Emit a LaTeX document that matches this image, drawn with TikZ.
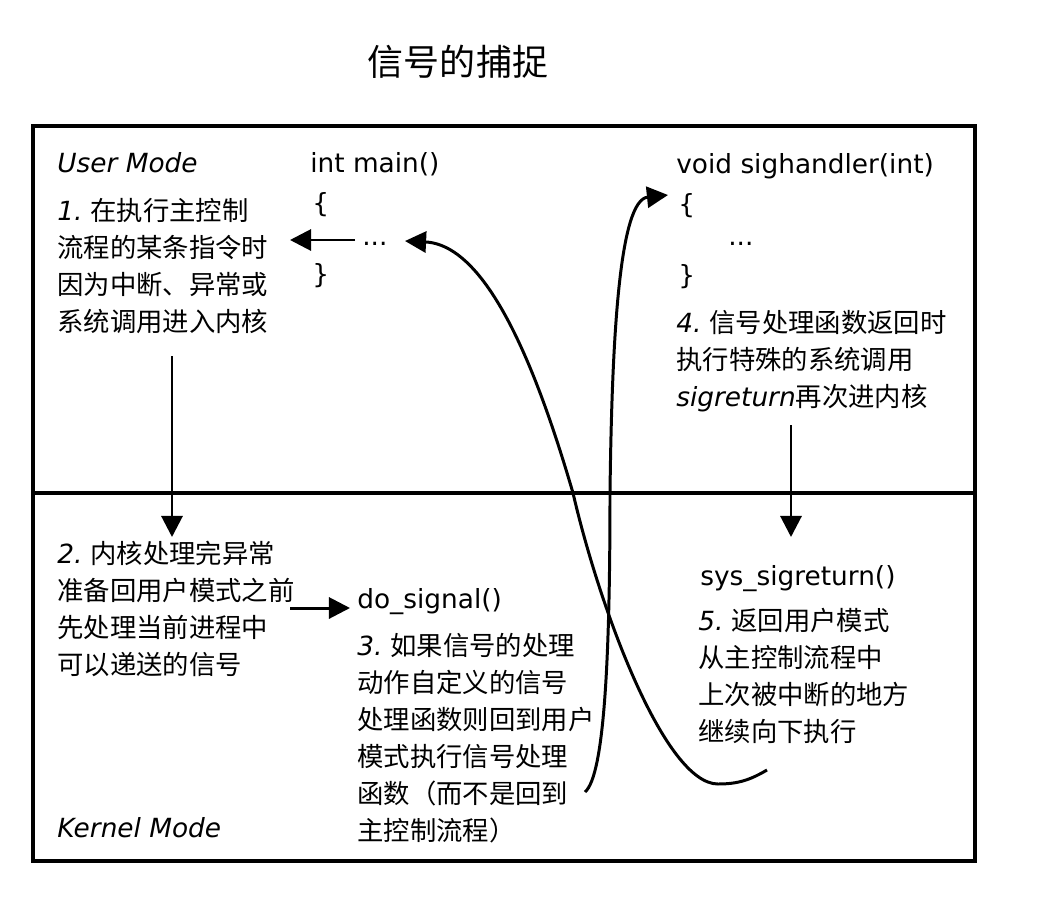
\documentclass[tikz,border=0pt]{standalone}
\usepackage{fontspec}
\setmainfont{DejaVu Sans}
\newfontfamily\cjk{Noto Sans CJK SC}
\usetikzlibrary{arrows.meta, positioning}
\newcommand{\num}[1]{{\normalfont\itshape #1}}
\tikzset{
  arr/.style={line width=1.7pt, -{Triangle[length=12pt, width=12pt]}},
  txt/.style={anchor=base west, inner sep=0pt, align=left,
    font=\fontsize{15}{21}\selectfont}}

\begin{document}
\begin{tikzpicture}[x=0.02cm, y=-0.02cm]
  \useasboundingbox (0,0) rectangle (1059,903);
  \node (T) at (458,62) {\fontsize{20.5}{24}\selectfont\cjk 信号的捕捉};
  \draw [line width=2.5pt] (33,126) rectangle (975,861);
  \draw [line width=2pt] (33,493) -- (975,493);
  % user mode (multi-line nodes sit on their last baseline)
  \node [txt] (um) at (57,172) {\itshape User Mode};
  \node [txt] (m0) at (310,172) {int main()};
  \node [txt] (m1) at (312,212) {\{};
  \node [txt] (m2) at (362,245) {...};
  \node [txt] (m3) at (312,283) {\}};
  \node [txt] (h0) at (676,173) {void sighandler(int)};
  \node [txt] (h1) at (678,213) {\{};
  \node [txt] (h2) at (728,245) {...};
  \node [txt] (h3) at (678,284) {\}};
  \node [txt, font=\fontsize{15}{21}\selectfont\cjk] (s1) at (57,331)
    {\num{1.} 在执行主控制\\流程的某条指令时\\因为中断、异常或\\系统调用进入内核};
  \node [txt, font=\fontsize{15}{21}\selectfont\cjk] (s4) at (676,406)
    {\num{4.} 信号处理函数返回时\\执行特殊的系统调用\\\num{sigreturn}再次进内核};
  % kernel mode
  \node [txt] (km) at (57,837) {\itshape Kernel Mode};
  \node [txt, font=\fontsize{15}{21}\selectfont\cjk] (s2) at (57,674)
    {\num{2.} 内核处理完异常\\准备回用户模式之前\\先处理当前进程中\\可以递送的信号};
  \node [txt] (ds) at (357,608) {do\_signal()};
  \node [txt, font=\fontsize{15}{21}\selectfont\cjk] (s3) at (357,840)
    {\num{3.} 如果信号的处理\\动作自定义的信号\\处理函数则回到用户\\模式执行信号处理\\函数（而不是回到\\主控制流程）};
  \node [txt] (sr) at (700,585) {sys\_sigreturn()};
  \node [txt, font=\fontsize{15}{21}\selectfont\cjk] (s5) at (698,741)
    {\num{5.} 返回用户模式\\从主控制流程中\\上次被中断的地方\\继续向下执行};
  % arrows
  \coordinate (p1) at (172,356);
  \coordinate (q1) at (172,537);
  \coordinate (p2) at (290,608);
  \coordinate (q2) at (350,608);
  \coordinate (p3) at (355,240);
  \coordinate (q3) at (290,240);
  \coordinate (p4) at (791,425);
  \coordinate (q4) at (791,537);
  \coordinate (a0) at (767,770);
  \coordinate (a1) at (405,241);
  \coordinate (b0) at (585,792);
  \coordinate (b1) at (668,195);
  \draw [arr] (p1) -- (q1);
  \draw [arr] (p2) -- (q2);
  \draw [arr] (p3) -- (q3);
  \draw [arr] (p4) -- (q4);
  \draw [arr] (a0) .. controls (750,780) and (738,784) .. (718,784)
    .. controls (665,784) and (600,610) .. (573,493)
    .. controls (540,380) and (490,245) .. (a1);
  \draw [arr] (b0) .. controls (605,775) and (610,650) .. (610,493)
    .. controls (612,330) and (620,200) .. (b1);
\end{tikzpicture}
\end{document}
